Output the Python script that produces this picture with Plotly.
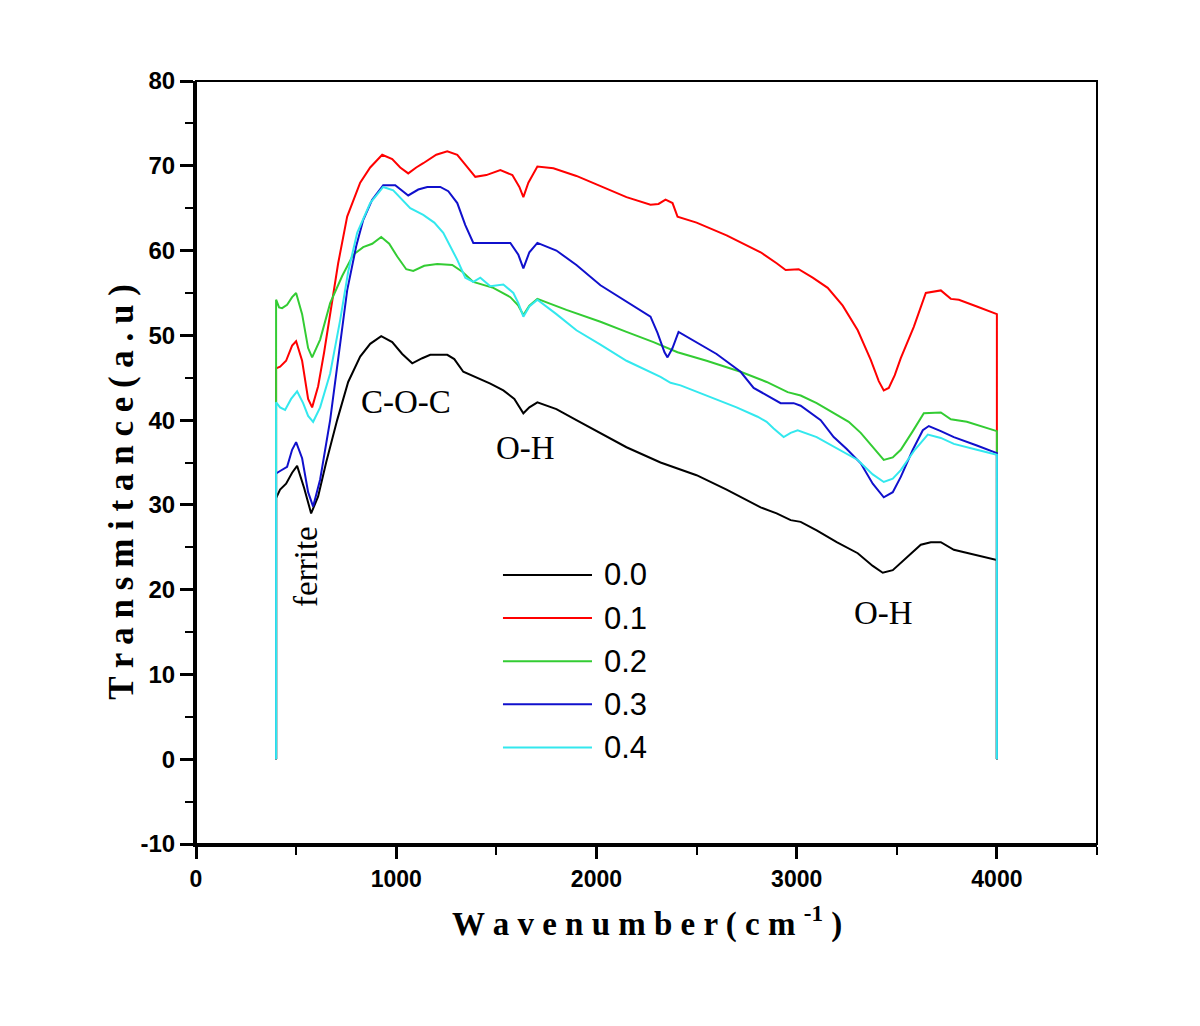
import plotly.graph_objects as go

# ---- data ----
x_00 = [400, 400, 420, 450, 480, 505, 540, 575, 610, 650, 705, 760, 820, 870, 925, 980, 1030, 1080, 1130, 1170,
        1255, 1290, 1335, 1405, 1470, 1535, 1590, 1635, 1665, 1705, 1800, 1900, 2020, 2150, 2320, 2500, 2650, 2820,
        2900, 2970, 3020, 3100, 3200, 3305, 3380, 3430, 3480, 3550, 3620, 3670, 3720, 3785, 3900, 4000, 4000]
y_00 = [0, 30.8, 31.8, 32.5, 33.8, 34.6, 32.0, 29.0, 31.0, 35.0, 40.0, 44.5, 47.5, 49.0, 49.9, 49.2, 47.8, 46.7, 47.3, 47.7,
        47.7, 47.2, 45.7, 45.0, 44.3, 43.5, 42.5, 40.8, 41.5, 42.1, 41.3, 40.0, 38.5, 36.8, 35.0, 33.5, 31.8, 29.7,
        29.0, 28.2, 28.0, 27.0, 25.6, 24.3, 22.8, 22.0, 22.3, 23.8, 25.3, 25.6, 25.6, 24.7, 24.1, 23.5, 0]

x_01 = [400, 400, 420, 450, 480, 500, 530, 560, 580, 610, 640, 670, 710, 755, 820, 870, 930, 980, 1020, 1060, 1100,
        1135, 1200, 1255, 1305, 1350, 1395, 1450, 1520, 1580, 1615, 1635, 1660, 1705, 1785, 1900, 2020, 2150, 2270,
        2310, 2345, 2380, 2405, 2500, 2650, 2820, 2900, 2945, 3010, 3080, 3155, 3230, 3305, 3370, 3410, 3435, 3460, 3490, 3520,
        3585, 3645, 3720, 3770, 3810, 3900, 4000, 4000]
y_01 = [0, 46.1, 46.3, 47.0, 48.8, 49.3, 47.0, 42.5, 41.5, 44.0, 48.0, 52.6, 58.5, 64.0, 68.0, 69.8, 71.3, 70.8, 69.8, 69.1, 69.8,
        70.3, 71.3, 71.7, 71.3, 70.0, 68.7, 68.9, 69.5, 68.9, 67.5, 66.3, 68.0, 69.9, 69.7, 68.8, 67.6, 66.3, 65.4,
        65.5, 66.0, 65.6, 64.0, 63.3, 61.8, 59.8, 58.5, 57.7, 57.8, 56.8, 55.6, 53.5, 50.6, 47.1, 44.6, 43.5, 43.8, 45.3, 47.3,
        51.0, 55.0, 55.3, 54.3, 54.2, 53.4, 52.5, 0]

x_02 = [400, 400, 415, 430, 455, 480, 500, 530, 560, 580, 620, 670, 730, 785, 835, 880, 925, 965, 1005, 1050, 1085,
        1140, 1205, 1280, 1330, 1385, 1485, 1570, 1610, 1635, 1665, 1705, 1850, 2020, 2150, 2285, 2405, 2550, 2720,
        2850, 2955, 3020, 3100, 3185, 3260, 3320, 3380, 3435, 3480, 3520, 3580, 3635, 3720, 3770, 3850, 4000, 4000]
y_02 = [0, 54.2, 53.3, 53.2, 53.6, 54.5, 55.0, 52.5, 48.5, 47.4, 49.5, 53.8, 57.0, 59.5, 60.4, 60.8, 61.6, 60.8, 59.3, 57.8, 57.6,
        58.2, 58.4, 58.3, 57.5, 56.3, 55.6, 54.5, 53.5, 52.4, 53.5, 54.3, 53.0, 51.6, 50.4, 49.2, 48.0, 47.0, 45.7,
        44.5, 43.3, 42.9, 42.0, 40.8, 39.8, 38.5, 36.8, 35.3, 35.6, 36.5, 38.7, 40.8, 40.9, 40.1, 39.8, 38.7, 0]

x_03 = [400, 400, 420, 455, 480, 500, 530, 560, 585, 620, 670, 710, 755, 800, 835, 880, 935, 995, 1060, 1110, 1155,
        1220, 1260, 1305, 1345, 1385, 1485, 1570, 1610, 1635, 1665, 1705, 1800, 1900, 2020, 2150, 2270, 2305, 2340,
        2355, 2380, 2410, 2500, 2600, 2720, 2785, 2920, 2985, 3020, 3120, 3185, 3250, 3320, 3380, 3435, 3480, 3520,
        3580, 3630, 3660, 3720, 3785, 3900, 4000, 4000]
y_03 = [0, 33.7, 34.0, 34.5, 36.5, 37.4, 35.5, 31.5, 29.8, 33.0, 40.0, 47.5, 55.3, 60.5, 63.6, 66.0, 67.7, 67.7, 66.5, 67.2, 67.5,
        67.5, 67.0, 65.6, 63.0, 60.9, 60.9, 60.9, 59.5, 57.9, 59.8, 60.9, 60.0, 58.3, 55.9, 54.0, 52.2, 50.3, 48.0,
        47.4, 48.5, 50.4, 49.2, 47.8, 45.7, 43.8, 42.0, 42.0, 41.7, 40.0, 38.0, 36.6, 34.9, 32.5, 30.9, 31.5, 33.3,
        36.5, 38.8, 39.3, 38.7, 38.0, 37.0, 36.1, 0]

x_04 = [400, 400, 420, 445, 475, 505, 535, 560, 585, 620, 670, 720, 760, 805, 870, 935, 985, 1030, 1070, 1135, 1190,
        1235, 1270, 1305, 1345, 1385, 1420, 1470, 1535, 1585, 1610, 1635, 1665, 1705, 1800, 1900, 2020, 2150, 2320,
        2370, 2420, 2550, 2700, 2805, 2850, 2885, 2935, 2970, 3005, 3100, 3200, 3305, 3380, 3435, 3480, 3520, 3590,
        3655, 3720, 3785, 3900, 4000, 4000]
y_04 = [0, 42.1, 41.5, 41.2, 42.5, 43.4, 42.0, 40.5, 39.8, 41.5, 45.5, 51.8, 57.5, 62.1, 65.6, 67.5, 67.1, 66.0, 65.0, 64.2, 63.3,
        62.1, 60.5, 58.9, 56.8, 56.3, 56.8, 55.8, 56.0, 55.0, 53.8, 52.2, 53.4, 54.2, 52.5, 50.6, 48.9, 47.0, 45.1,
        44.4, 44.1, 42.9, 41.5, 40.4, 39.8, 39.0, 38.0, 38.5, 38.8, 38.0, 36.7, 35.3, 33.6, 32.7, 33.1, 34.1, 36.5,
        38.3, 37.9, 37.2, 36.5, 35.9, 0]

series_names = ["0.0", "0.1", "0.2", "0.3", "0.4"]
series_x = [x_00, x_01, x_02, x_03, x_04]
series_y = [y_00, y_01, y_02, y_03, y_04]
series_colors = ["#000000", "#ff0000", "#33cc33", "#1010cc", "#33e8ee"]

x_ticks = [0, 1000, 2000, 3000, 4000]
x_ticktext = ["0", "1000", "2000", "3000", "4000"]
y_ticks = [-10, 0, 10, 20, 30, 40, 50, 60, 70, 80]
y_ticktext = ["-10", "0", "10", "20", "30", "40", "50", "60", "70", "80"]

# peak labels: (text, x, y, angle)
peak_labels = [("C-O-C", 1050, 42.1, 0), ("O-H", 1645, 36.7, 0), ("O-H", 3435, 17.2, 0), ("ferrite", 550, 22.7, -90)]

fig = go.Figure()
for name, xs, ys, col in zip(series_names, series_x, series_y, series_colors):
    fig.add_trace(go.Scatter(x=xs, y=ys, mode="lines", name=name,
                             line=dict(color=col, width=2), showlegend=False))

serif = "Liberation Serif, Times New Roman, serif"
sans = "Liberation Sans, Arial, sans-serif"

for txt, px, py, ang in peak_labels:
    fig.add_annotation(x=px, y=py, text=txt, showarrow=False, textangle=ang,
                       font=dict(family=serif, size=33, color="black"))

# manual legend (long line samples as in the reference)
leg_x0, leg_x1 = 0.3407, 0.4395
leg_y_top, leg_step = 0.3526, 0.0565
for i, (name, col) in enumerate(zip(series_names, series_colors)):
    yy = leg_y_top - i * leg_step
    fig.add_shape(type="line", xref="paper", yref="paper", x0=leg_x0, x1=leg_x1, y0=yy, y1=yy,
                  line=dict(color=col, width=2))
    fig.add_annotation(xref="paper", yref="paper", x=leg_x1 + 0.011, y=yy, text=name, showarrow=False,
                       xanchor="left", yanchor="middle", font=dict(family=sans, size=31, color="black"))

# axis titles
fig.add_annotation(xref="paper", yref="paper", x=-0.1065, y=0.461, textangle=-90, showarrow=False,
                   text="<b>T r a n s m i t a n c e ( a . u )</b>",
                   font=dict(family=serif, size=35, color="black"))
fig.add_annotation(xref="paper", yref="paper", x=0.5006, y=-0.132, showarrow=False,
                   text="<b>W a v e n u m b e r ( c m <sup>-1</sup> )</b>",
                   font=dict(family=serif, size=33, color="black"))

# thin frame on top/right
fig.add_shape(type="rect", xref="paper", yref="paper", x0=0, x1=1, y0=0, y1=1,
              line=dict(color="black", width=2), layer="above")

fig.update_xaxes(range=[0, 4500], tickvals=x_ticks, ticktext=x_ticktext, showline=True, linewidth=3,
                 linecolor="black", ticks="outside", ticklen=12, tickwidth=2.5, tickcolor="black",
                 minor=dict(ticks="outside", ticklen=8, tickwidth=2, dtick=500, tickcolor="black"),
                 showgrid=False, zeroline=False,
                 tickfont=dict(family=sans, size=23, color="black", weight="bold"))
fig.update_yaxes(range=[-10, 80], tickvals=y_ticks, ticktext=y_ticktext, showline=True, linewidth=3,
                 linecolor="black", ticks="outside", ticklen=13, tickwidth=2.5, tickcolor="black",
                 minor=dict(ticks="outside", ticklen=8, tickwidth=2, dtick=5, tickcolor="black"),
                 showgrid=False, zeroline=False,
                 tickfont=dict(family=sans, size=24, color="black", weight="bold"))

fig.update_layout(width=1184, height=1010, plot_bgcolor="white", paper_bgcolor="white",
                  margin=dict(l=188, r=95, t=73, b=174), showlegend=False)

fig.write_html("out.html")
